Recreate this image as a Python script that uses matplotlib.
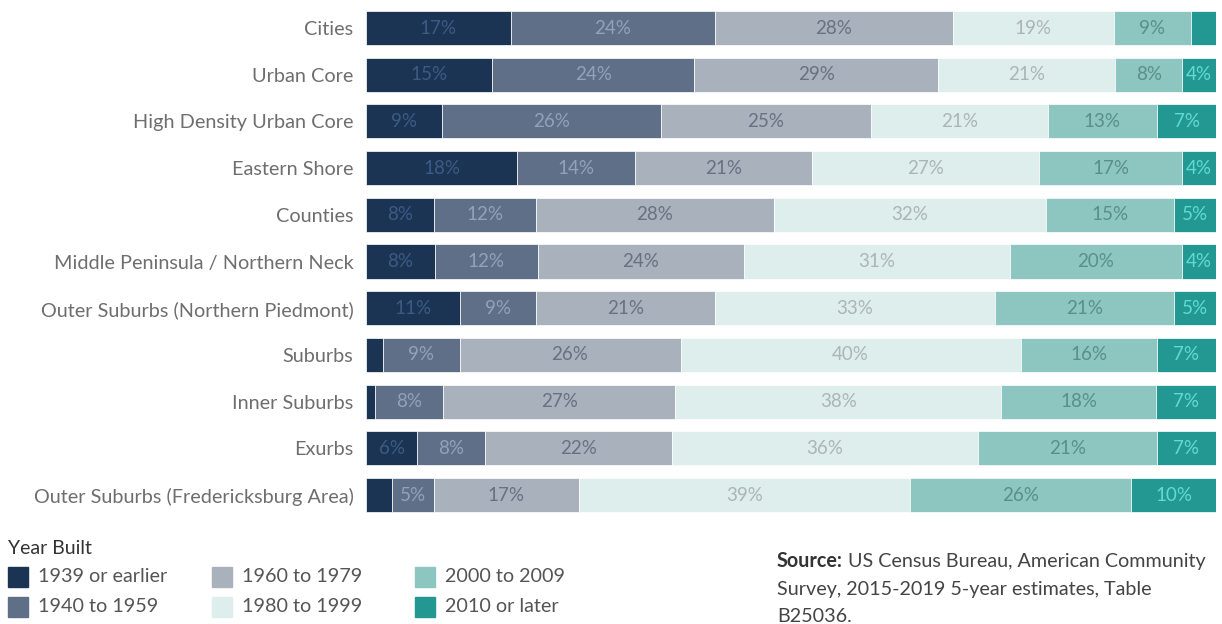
import matplotlib
matplotlib.use('Agg')
import matplotlib.pyplot as plt
import numpy as np

categories = ['Cities', 'Urban Core', 'High Density Urban Core', 'Eastern Shore', 'Counties',
              'Middle Peninsula / Northern Neck', 'Outer Suburbs (Northern Piedmont)', 'Suburbs',
              'Inner Suburbs', 'Exurbs', 'Outer Suburbs (Fredericksburg Area)']
periods = ['1939 or earlier', '1940 to 1959', '1960 to 1979', '1980 to 1999', '2000 to 2009', '2010 or later']
pre1939 = [17, 15, 9, 18, 8, 8, 11, 2, 1, 6, 3]
y1940 = [24, 24, 26, 14, 12, 12, 9, 9, 8, 8, 5]
y1960 = [28, 29, 25, 21, 28, 24, 21, 26, 27, 22, 17]
y1980 = [19, 21, 21, 27, 32, 31, 33, 40, 38, 36, 39]
y2000 = [9, 8, 13, 17, 15, 20, 21, 16, 18, 21, 26]
y2010 = [3, 4, 7, 4, 5, 4, 5, 7, 7, 7, 10]

colors = ['#1b3454', '#5e6f87', '#a9b1bd', '#ddeeed', '#8dc5c1', '#239892']
text_colors = ['#3d5a85', '#92a2b9', '#6a717e', '#a9b6b8', '#5a8e8a', '#5fdcd2']

plt.rcParams['font.family'] = ['Lato', 'DejaVu Sans']
W, H = 1222, 624

fig = plt.figure(figsize=(W / 100, H / 100), dpi=100)
ax = fig.add_axes([366 / W, 0.1693, 850 / W, 0.8232])

series = np.array([pre1939, y1940, y1960, y1980, y2000, y2010], dtype=float)
shares = series / series.sum(axis=0) * 100  # each row fills the full width
y = np.arange(len(categories))
left = np.zeros(len(categories))
for vals, shown, c, tc in zip(shares, series, colors, text_colors):
    ax.barh(y, vals, left=left, height=0.73, color=c, edgecolor='white', linewidth=0.5)
    for yi, l, v, s in zip(y, left, vals, shown):
        if s >= 4:
            ax.text(l + v / 2, yi, f'{int(s)}%', ha='center', va='center',
                    fontsize=13.5, color=tc)
    left += vals

ax.set_xlim(0, 100)
ax.set_ylim(len(categories) - 0.5, -0.5)
ax.set_yticks(y)
ax.set_yticklabels(categories, fontsize=14.3, color='#6e6e6e')
ax.tick_params(axis='y', length=0, pad=9)
ax.set_xticks([])
for s in ax.spines.values():
    s.set_visible(False)

# legend, laid out like the original (3 columns x 2 rows)
fig.text(8 / W, 1 - 549 / H, 'Year Built', fontsize=14, color='#333333', va='center')
col_x = [8, 212, 415]
row_y = [577, 607]
for i, (lab, c) in enumerate(zip(periods, colors)):
    cx, cy = col_x[i // 2], row_y[i % 2]
    fig.patches.append(plt.Rectangle((cx / W, 1 - (cy + 10) / H), 20 / W, 20 / H,
                                     color=c, transform=fig.transFigure, figure=fig))
    fig.text((cx + 30) / W, 1 - cy / H, lab, fontsize=14.2, color='#555555', va='center')

# source note
fig.canvas.draw()
r = fig.canvas.get_renderer()
src = fig.text(777 / W, 1 - 561 / H, 'Source:', fontsize=14.2, fontweight='bold',
               color='#333333', va='center')
bb = src.get_window_extent(renderer=r)
fig.text(bb.x1 / W + 0.004, 1 - 561 / H, 'US Census Bureau, American Community',
         fontsize=14.2, color='#444444', va='center')
fig.text(777 / W, 1 - 589 / H, 'Survey, 2015-2019 5-year estimates, Table',
         fontsize=14.2, color='#444444', va='center')
fig.text(777 / W, 1 - 617 / H, 'B25036.', fontsize=14.2, color='#444444', va='center')

fig.savefig('out.png', dpi=100)
